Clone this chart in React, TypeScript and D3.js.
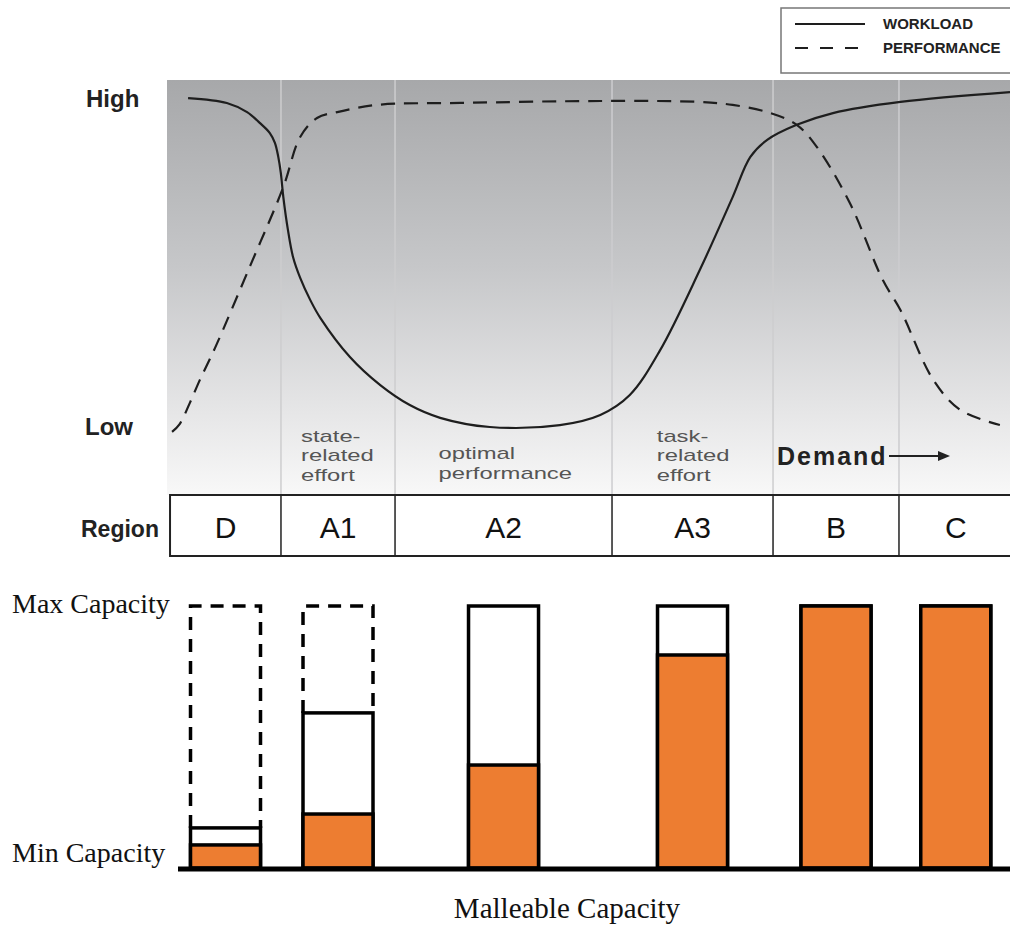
import React from "react";
import * as d3 from "d3";

// ---------- DATA ----------
// Demand axis 0..100 (left edge of plot to right edge), level 0 (Low) .. 1 (High)
const workloadDemand = [2.5, 7.1, 9.5, 11.0, 12.2, 12.8, 13.2, 13.5, 13.8, 14.35, 14.95, 15.8, 17.0, 18.2, 21.7, 25.3, 28.8, 32.4, 38.3, 46.6, 51.4, 54.9, 58.5, 63.2, 67.1, 69.2, 71.2, 74.7, 79.0, 87.0, 100];
const workloadLevel = [1.006, 0.991, 0.963, 0.93, 0.899, 0.869, 0.826, 0.777, 0.703, 0.602, 0.52, 0.456, 0.388, 0.333, 0.214, 0.128, 0.067, 0.028, 0.0, 0.006, 0.037, 0.098, 0.235, 0.48, 0.703, 0.826, 0.878, 0.924, 0.96, 0.994, 1.024];

const performanceDemand = [0.6, 1.5, 2.7, 3.9, 5.7, 9.9, 13.8, 15.8, 17.8, 20.2, 24.9, 34.8, 51.4, 63.2, 67.1, 71.2, 74.7, 77.1, 81.0, 84.9, 87.0, 90.9, 94.1, 98.8];
const performanceLevel = [-0.015, 0.009, 0.073, 0.144, 0.242, 0.495, 0.734, 0.887, 0.945, 0.963, 0.985, 0.991, 0.997, 0.994, 0.985, 0.963, 0.924, 0.856, 0.685, 0.45, 0.358, 0.144, 0.052, 0.006];

const regions = ["D", "A1", "A2", "A3", "B", "C"];
const regionBounds = [0.36, 13.52, 27.05, 52.79, 71.89, 86.83, 100.3];

const annotations = [
  { lines: ["state-", "related", "effort"], at: 15.9, first: 0 },
  { lines: ["optimal", "performance"], at: 32.2, first: 1 },
  { lines: ["task-", "related", "effort"], at: 58.1, first: 0 },
];

// Malleable capacity (0 = Min Capacity, 1 = Max Capacity)
const capacity = [0.153, 0.592, 1, 1, 1, 1];
const used = [0.088, 0.206, 0.393, 0.813, 1, 1];
const potential = [1, 1, null, null, null, null];

const legendItems = ["WORKLOAD", "PERFORMANCE"];

// ---------- LAYOUT ----------
const W = 1010;
const H = 926;
const SANS = "'Liberation Sans', Arial, Helvetica, sans-serif";
const SERIF = "'Liberation Serif', 'Times New Roman', serif";
const ORANGE = "#ED7D31";
const INK = "#1e1e1e";

export default function App() {
  const x = d3.scaleLinear().domain([0, 100]).range([167, 1010]);
  const y = d3.scaleLinear().domain([0, 1]).range([427, 100]);
  const yCap = d3.scaleLinear().domain([0, 1]).range([868, 606]);

  const plotTop = 80;
  const tableTop = 495;
  const tableBottom = 556;

  const line = d3
    .line<[number, number]>()
    .x((d) => x(d[0]))
    .y((d) => y(d[1]))
    .curve(d3.curveCatmullRom.alpha(0.5));

  const workloadPath = line(workloadDemand.map((d, i) => [d, workloadLevel[i]] as [number, number])) || "";
  const performancePath = line(performanceDemand.map((d, i) => [d, performanceLevel[i]] as [number, number])) || "";

  const barW = 70;
  const lineH = 19.5;

  return (
    <svg
      width={W}
      height={H}
      viewBox={`0 0 ${W} ${H}`}
      style={{ position: "absolute", left: 0, top: 0, background: "#fff" }}
    >
      <defs>
        <linearGradient id="bgGrad" x1="0" y1="0" x2="0" y2="1">
          <stop offset="0" stopColor="#a7a8aa" />
          <stop offset="0.45" stopColor="#c6c7c9" />
          <stop offset="0.8" stopColor="#e6e6e7" />
          <stop offset="1" stopColor="#f8f8f8" />
        </linearGradient>
      </defs>

      {/* Legend */}
      <g>
        <rect x={781} y={8} width={240} height={65} fill="#fff" stroke="#777" strokeWidth={1.5} />
        <line x1={795} x2={865} y1={24} y2={24} stroke={INK} strokeWidth={2} />
        <line x1={795} x2={865} y1={48} y2={48} stroke={INK} strokeWidth={2} strokeDasharray="13 12" />
        {legendItems.map((t, i) => (
          <text key={t} x={883} y={29 + i * 24} fontFamily={SANS} fontWeight="bold" fontSize={15} fill="#222">
            {t}
          </text>
        ))}
      </g>

      {/* Top panel background */}
      <rect x={x(0)} y={plotTop} width={x(100) - x(0)} height={tableTop - plotTop} fill="url(#bgGrad)" />
      {regionBounds.slice(1, -1).map((b, i) => (
        <line key={i} x1={x(b)} x2={x(b)} y1={plotTop} y2={tableTop} stroke="#cdcdcf" strokeWidth={1.5} />
      ))}

      {/* Y labels */}
      <text x={86} y={107} fontFamily={SANS} fontWeight="bold" fontSize={24} fill="#222">High</text>
      <text x={85} y={435} fontFamily={SANS} fontWeight="bold" fontSize={24} fill="#222">Low</text>

      {/* Curves */}
      <path d={workloadPath} fill="none" stroke={INK} strokeWidth={2.2} />
      <path d={performancePath} fill="none" stroke={INK} strokeWidth={2.2} strokeDasharray="14 9" />

      {/* Annotations */}
      {annotations.map((a, i) => (
        <g key={i} transform={`translate(${x(a.at)},0) scale(1.4,1)`}>
          {a.lines.map((t, j) => (
            <text key={j} x={0} y={442 + (a.first + j) * lineH - (a.first ? 2 : 0)} fontFamily={SANS} fontSize={17} fill="#555">
              {t}
            </text>
          ))}
        </g>
      ))}
      <text x={777} y={465} fontFamily={SANS} fontWeight="bold" fontSize={25} letterSpacing={2} fill="#222">
        Demand
      </text>
      <line x1={889} x2={940} y1={456} y2={456} stroke="#222" strokeWidth={1.8} />
      <path d="M938,451 L950,456 L938,461 Z" fill="#222" />

      {/* Region table */}
      <text x={81} y={537} fontFamily={SANS} fontWeight="bold" fontSize={23} fill="#222">Region</text>
      <rect x={x(regionBounds[0])} y={tableTop} width={x(100.5) - x(regionBounds[0])} height={tableBottom - tableTop} fill="#fff" stroke="#222" strokeWidth={2} />
      {regionBounds.slice(1, -1).map((b, i) => (
        <line key={i} x1={x(b)} x2={x(b)} y1={tableTop} y2={tableBottom} stroke="#222" strokeWidth={1.5} />
      ))}
      {regions.map((r, i) => (
        <text
          key={r}
          x={(x(regionBounds[i]) + x(regionBounds[i + 1])) / 2}
          y={538}
          textAnchor="middle"
          fontFamily={SANS}
          fontSize={30}
          fill="#111"
        >
          {r}
        </text>
      ))}

      {/* Bars */}
      {regions.map((r, i) => {
        const cx = (x(regionBounds[i]) + x(regionBounds[i + 1])) / 2;
        const x0 = cx - barW / 2;
        const x1 = cx + barW / 2;
        const p = potential[i];
        return (
          <g key={r}>
            {p != null && (
              <path
                d={`M${x0},${yCap(capacity[i])} V${yCap(p)} H${x1} V${yCap(capacity[i])}`}
                fill="none"
                stroke="#000"
                strokeWidth={3.5}
                strokeDasharray="13 9"
              />
            )}
            <rect x={x0} y={yCap(capacity[i])} width={barW} height={yCap(0) - yCap(capacity[i])} fill="#fff" stroke="#000" strokeWidth={3.5} />
            <rect x={x0} y={yCap(used[i])} width={barW} height={yCap(0) - yCap(used[i])} fill={ORANGE} stroke="#000" strokeWidth={3.5} />
          </g>
        );
      })}
      <line x1={178} x2={1010} y1={yCap(0) + 1} y2={yCap(0) + 1} stroke="#000" strokeWidth={5} />

      <text x={12} y={613} fontFamily={SERIF} fontSize={28} fill="#111">Max Capacity</text>
      <text x={12} y={862} fontFamily={SERIF} fontSize={28} fill="#111">Min Capacity</text>
      <text x={567} y={918} textAnchor="middle" fontFamily={SERIF} fontSize={29} fill="#111">Malleable Capacity</text>
    </svg>
  );
}
